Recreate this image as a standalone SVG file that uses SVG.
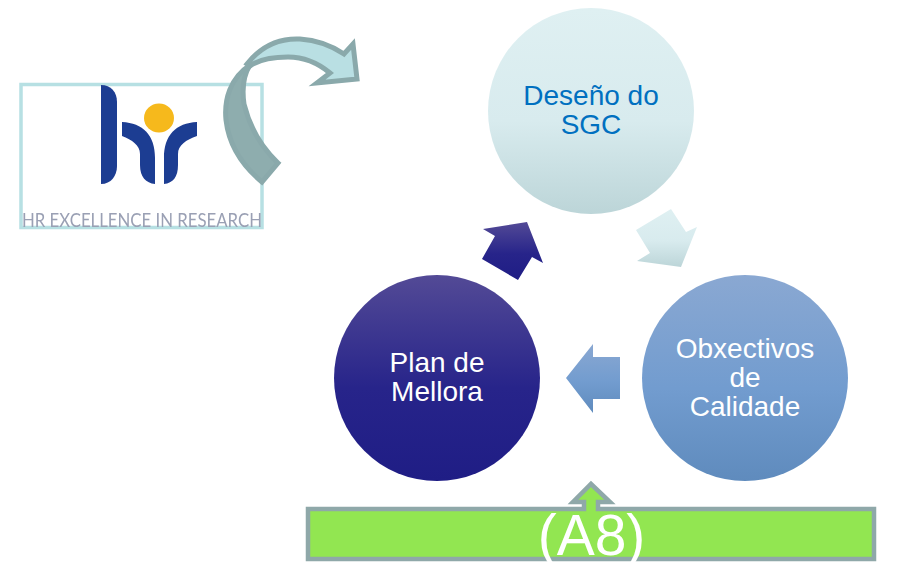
<svg xmlns="http://www.w3.org/2000/svg" width="918" height="563" viewBox="0 0 918 563">
<defs>
<linearGradient id="gTeal" x1="0" y1="0" x2="0" y2="1"><stop offset="0" stop-color="#dff0f2"/><stop offset="0.55" stop-color="#d8ebee"/><stop offset="1" stop-color="#bcd5d8"/></linearGradient>
<linearGradient id="gBlue" x1="0" y1="0" x2="0" y2="1"><stop offset="0" stop-color="#8aa8d2"/><stop offset="0.55" stop-color="#729ccf"/><stop offset="1" stop-color="#5f8bbd"/></linearGradient>
<linearGradient id="gNavy" x1="0" y1="0" x2="0" y2="1"><stop offset="0" stop-color="#534a96"/><stop offset="0.55" stop-color="#27248a"/><stop offset="1" stop-color="#1f1d85"/></linearGradient>
<filter id="soft" x="-5%" y="-5%" width="110%" height="110%"><feGaussianBlur stdDeviation="0.6"/></filter>
</defs>
<style>
.lbl{font-family:"Liberation Sans",Arial,sans-serif;font-size:28px;text-anchor:middle;fill:#fff}
.logo{fill:#1f3c92}
</style>
<rect width="918" height="563" fill="#fff"/>
<g id="logo">
<rect x="21" y="84.500" width="241" height="143" fill="#fff" stroke="#b7e0e3" stroke-width="3.500"/>
<g filter="url(#soft)">
<path class="logo" d="M101 85C111 85 117 92 117 102V166C117 176 111 184 101 184Z"/>
<path class="logo" d="M122 122C143 123 155 135 155 158V184C146 183 140 177 140 165V154C140 145 132 140 122 136Z"/>
<path class="logo" d="M197 122C176 123 164 135 164 158V184C173 183 178 177 178 165V154C178 145 186 140 197 136Z"/>
<ellipse cx="159" cy="118" rx="15" ry="14.500" fill="#f6b91c"/>
<text x="22" y="226.500" font-family="Lato,'Open Sans',sans-serif" font-size="20" fill="#9aa0b4" textLength="240" lengthAdjust="spacingAndGlyphs">HR EXCELLENCE IN RESEARCH</text>
</g>
</g>
<g id="curved-arrow" stroke="#8aa9ab" stroke-width="5" stroke-linejoin="miter">
<path fill="#b9dfe3" d="M247 64C262 45 280 38 300 39C316 40 332 46 344 54L353 44L357 79L317 83L330 73C318 63 304 57 288 57C275 57 261 58 250 66Z"/>
<path fill="#8eadae" d="M250 65C230 78 224 100 226 120C229 146 244 167 262 182L278 163C262 148 250 128 244 104C242 90 243 76 250 65Z"/>
</g>
<g id="connectors">
<polygon fill="url(#gNavy)" points="483,229 527,222 543,263 532,257 518,280 482,259 495,236"/>
<polygon fill="url(#gTeal)" points="671,209 686,232 697,227 681,267 637,261 650,253 636,230"/>
<polygon fill="url(#gBlue)" points="620,357 593,357 593,344 566,378 593,413 593,399 620,399"/>
</g>
<g id="node-deseno">
<circle cx="591" cy="111" r="103" fill="url(#gTeal)"/>
<text class="lbl" style="fill:#0070c0"><tspan x="591" y="105">Deseño do</tspan><tspan x="591" y="134">SGC</tspan></text>
</g>
<g id="node-obxectivos">
<circle cx="745" cy="378" r="103" fill="url(#gBlue)"/>
<text class="lbl"><tspan x="745" y="358">Obxectivos</tspan><tspan x="745" y="387">de</tspan><tspan x="745" y="416">Calidade</tspan></text>
</g>
<g id="node-plan">
<circle cx="437" cy="378" r="103" fill="url(#gNavy)"/>
<text class="lbl"><tspan x="437" y="372">Plan de</tspan><tspan x="437" y="401">Mellora</tspan></text>
</g>
<g id="node-a8">
<path fill="#92e651" stroke="#8fa8a9" stroke-width="4.500" stroke-linejoin="miter" d="M308 509H584V502H573L591 484L610 502H598V509H874V559H308Z"/>
<text x="591.500" y="555" font-family="'Liberation Sans',Arial,sans-serif" font-size="57" text-anchor="middle" fill="#fff">(A8)</text>
</g>
</svg>
